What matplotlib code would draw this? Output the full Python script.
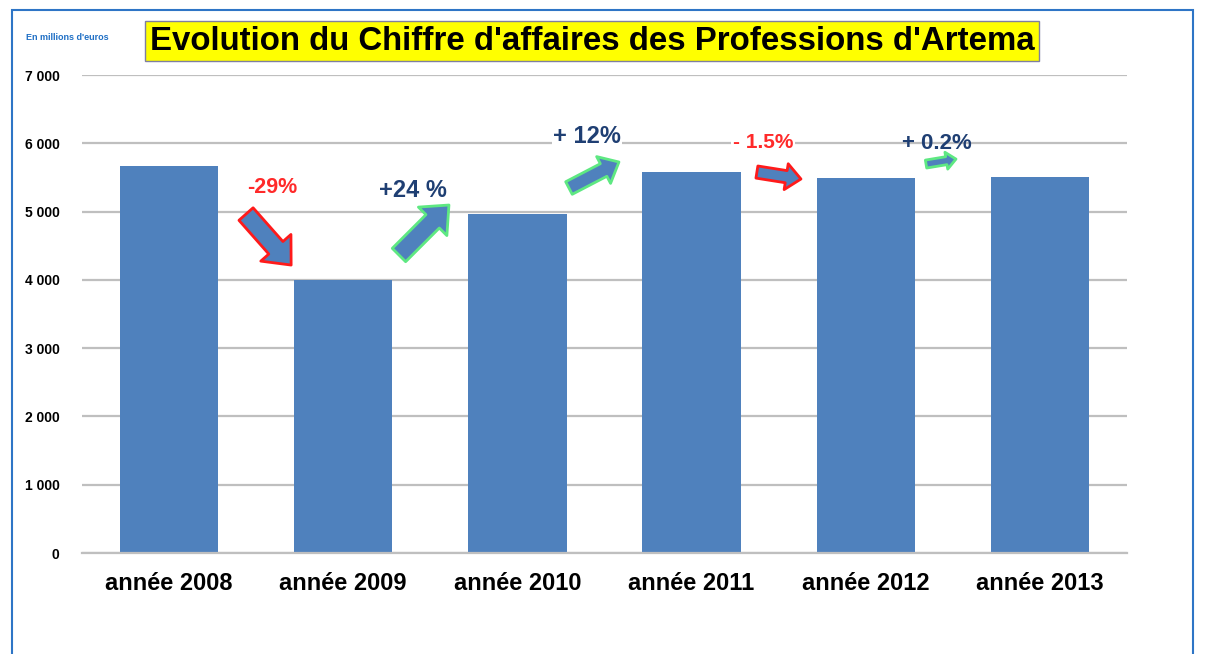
import matplotlib
matplotlib.use("Agg")
import matplotlib.pyplot as plt
from matplotlib.patches import Rectangle

plt.rcParams['font.family'] = ['Liberation Sans', 'DejaVu Sans']

annees = ["année 2008", "année 2009", "année 2010", "année 2011", "année 2012", "année 2013"]
ca = [5670, 4000, 4965, 5580, 5490, 5505]
y_ticks = [0, 1000, 2000, 3000, 4000, 5000, 6000, 7000]
y_labels = ["0", "1 000", "2 000", "3 000", "4 000", "5 000", "6 000", "7 000"]

# variations between years: text, label position, arrow tail -> tip (data units)
variations = ["-29%", "+24 %", "+ 12%", "- 1.5%", "+ 0.2%"]
var_colors = ["#FF2A2A", "#1F3F73", "#1F3F73", "#FF2A2A", "#1F3F73"]
var_sizes = [15.5, 17, 17, 15, 16]
label_pos = [(0.59, 5360), (1.40, 5310), (2.40, 6100), (3.41, 6015), (4.41, 6000)]
arrow_tail = [(0.442, 4964), (1.32, 4364), (2.296, 5345), (3.375, 5579), (4.346, 5696)]
arrow_tip = [(0.701, 4217), (1.607, 5096), (2.583, 5726), (3.628, 5477), (4.518, 5769)]
arrow_edge = ["#FF1A1A", "#5EE882", "#5EE882", "#FF1A1A", "#5EE882"]
arrow_scale = [20, 20, 15, 13, 8.5]

fig = plt.figure(figsize=(12.05, 6.54), dpi=100)
ax = fig.add_axes([0.068, 0.1544, 0.8673, 0.7309])

ax.bar(range(len(annees)), ca, width=0.565, color="#4F81BD", zorder=2)
ax.set_xlim(-0.5, 5.5)
ax.set_ylim(0, 7000)
ax.set_yticks(y_ticks)
ax.set_yticklabels(y_labels, fontsize=10, fontweight="bold")
ax.set_xticks(range(len(annees)))
ax.set_xticklabels(annees, fontsize=17, fontweight="bold")
ax.tick_params(axis="both", length=0)
ax.tick_params(axis="y", pad=16)
ax.tick_params(axis="x", pad=14)
ax.grid(axis="y", color="#BFBFBF", linewidth=1.6, zorder=0)
for s in ["top", "right", "left"]:
    ax.spines[s].set_visible(False)
ax.spines["bottom"].set_color("#BFBFBF")
ax.spines["bottom"].set_linewidth(1.6)

for i in range(len(variations)):
    ax.annotate("", xy=arrow_tip[i], xytext=arrow_tail[i],
                arrowprops=dict(arrowstyle="simple,head_length=0.83,head_width=1.45,tail_width=0.68",
                                fc="#4F81BD", ec=arrow_edge[i], lw=2,
                                mutation_scale=arrow_scale[i], shrinkA=0, shrinkB=0),
                zorder=4)
    bbox = dict(facecolor="white", edgecolor="none", pad=1) if i in (2, 3) else None
    ax.text(label_pos[i][0], label_pos[i][1], variations[i], color=var_colors[i],
            fontsize=var_sizes[i], fontweight="bold", ha="center", va="center", bbox=bbox, zorder=5)

fig.text(26 / 1205, 1 - 37 / 654, "En millions d'euros", color="#1F6FC5",
         fontsize=6.5, fontweight="bold", ha="left", va="center")
fig.text(592 / 1205, 1 - 41 / 654, "Evolution du Chiffre d'affaires des Professions d'Artema",
         fontsize=23.8, fontweight="bold", ha="center", va="center",
         bbox=dict(facecolor="#FFFF00", edgecolor="#7F7F9F", linewidth=1, pad=3.5))

fig.patches.append(Rectangle((12 / 1205, -0.05), (1193 - 12) / 1205, 1.05 - 10 / 654,
                             transform=fig.transFigure, fill=False,
                             edgecolor="#2E75C6", linewidth=1.5))

fig.savefig("out.png", dpi=100)
